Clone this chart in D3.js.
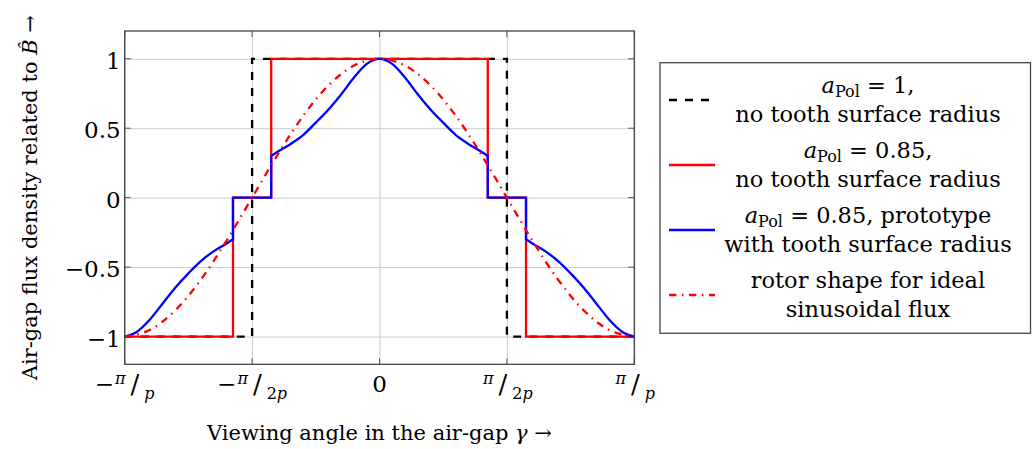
<!DOCTYPE html>
<meta charset="utf-8">
<head>
<script src="https://d3js.org/d3.v7.min.js"></script>
<style>
  body { margin: 0; background: #fff; }
  text { font-family: "DejaVu Serif", serif; fill: #000; }
</style>
</head>
<body>
<svg id="chart" width="1036" height="449"></svg>

<script>

// x in units of pi/p, y = B / B_hat
var xTicks = [-1, -0.5, 0, 0.5, 1];
var xTickLabels = ["−π/p", "−π/2p", "0", "π/2p", "π/p"];
var yTicks = [-1, -0.5, 0, 0.5, 1];
var yTickLabels = ["−1", "−0.5", "0", "0.5", "1"];

// a_Pol = 1, no tooth surface radius
var blackX = [-1, -0.5, -0.5, 0.5, 0.5, 1];
var blackY = [-1, -1, 1, 1, -1, -1];

// a_Pol = 0.85, no tooth surface radius
var redX = [-1, -0.575, -0.575, -0.425, -0.425, 0.425, 0.425, 0.575, 0.575, 1];
var redY = [-1, -1, 0, 0, 1, 1, 0, 0, -1, -1];

// a_Pol = 0.85, prototype with tooth surface radius
var blueX = [-1, -0.96, -0.9, -0.85, -0.8, -0.75, -0.7, -0.65, -0.6, -0.575,
             -0.575, -0.425,
             -0.425, -0.4, -0.35, -0.3, -0.25, -0.2, -0.15, -0.1, -0.05, 0,
             0.05, 0.1, 0.15, 0.2, 0.25, 0.3, 0.35, 0.4, 0.425,
             0.425, 0.575,
             0.575, 0.6, 0.65, 0.7, 0.75, 0.8, 0.85, 0.9, 0.96, 1];
var blueY = [-1, -0.975, -0.875, -0.76, -0.645, -0.545, -0.455, -0.385, -0.33, -0.30,
             0, 0,
             0.30, 0.33, 0.385, 0.45, 0.54, 0.635, 0.745, 0.865, 0.963, 1,
             0.963, 0.865, 0.745, 0.635, 0.54, 0.45, 0.385, 0.33, 0.30,
             0, 0,
             -0.30, -0.33, -0.385, -0.455, -0.545, -0.645, -0.76, -0.875, -0.975, -1];

// rotor shape for ideal sinusoidal flux
var sinX = [-1, -0.9, -0.8, -0.7, -0.6, -0.5, -0.4, -0.3, -0.2, -0.1, 0,
            0.1, 0.2, 0.3, 0.4, 0.5, 0.6, 0.7, 0.8, 0.9, 1];
var sinY = [-1, -0.951, -0.809, -0.588, -0.309, 0, 0.309, 0.588, 0.809, 0.951, 1,
            0.951, 0.809, 0.588, 0.309, 0, -0.309, -0.588, -0.809, -0.951, -1];

var legendLine1 = ["a_Pol = 1,", "a_Pol = 0.85,", "a_Pol = 0.85, prototype", "rotor shape for ideal"];
var legendLine2 = ["no tooth surface radius", "no tooth surface radius", "with tooth surface radius", "sinusoidal flux"];

var svg = d3.select("#chart");

var x = d3.scaleLinear().domain([-1, 1]).range([124.7, 634.3]);
var y = d3.scaleLinear().domain([-1.2, 1.2]).range([364.3, 31]);

var left = x.range()[0], right = x.range()[1];
var top_ = y.range()[1], bottom = y.range()[0];

// grid
svg.append("g")
  .attr("transform", "translate(0," + bottom + ")")
  .call(d3.axisBottom(x).tickValues(xTicks).tickSize(-(bottom - top_)).tickFormat(""))
  .call(g => g.select(".domain").remove())
  .selectAll("line").attr("stroke", "#c4c4c4").attr("stroke-width", 0.9);

svg.append("g")
  .attr("transform", "translate(" + left + ",0)")
  .call(d3.axisLeft(y).tickValues(yTicks).tickSize(-(right - left)).tickFormat(""))
  .call(g => g.select(".domain").remove())
  .selectAll("line").attr("stroke", "#c4c4c4").attr("stroke-width", 0.9);

// small inner tick marks on all four sides
var tk = 6;
xTicks.forEach(function(v) {
  svg.append("line").attr("x1", x(v)).attr("x2", x(v)).attr("y1", bottom).attr("y2", bottom - tk)
    .attr("stroke", "#555").attr("stroke-width", 1);
  svg.append("line").attr("x1", x(v)).attr("x2", x(v)).attr("y1", top_).attr("y2", top_ + tk)
    .attr("stroke", "#555").attr("stroke-width", 1);
});
yTicks.forEach(function(v) {
  svg.append("line").attr("x1", left).attr("x2", left + tk).attr("y1", y(v)).attr("y2", y(v))
    .attr("stroke", "#555").attr("stroke-width", 1);
  svg.append("line").attr("x1", right).attr("x2", right - tk).attr("y1", y(v)).attr("y2", y(v))
    .attr("stroke", "#555").attr("stroke-width", 1);
});

function toPoints(xs, ys) {
  return xs.map(function(v, i) { return [v, ys[i]]; });
}

// one path; smooth between jumps, straight at jumps
function jumpPath(pts, curve) {
  var runs = [], cur = [pts[0]];
  for (var i = 1; i < pts.length; i++) {
    if (pts[i][0] === pts[i - 1][0]) {
      if (cur.length > 1) runs.push({ p: cur, c: curve });
      runs.push({ p: [pts[i - 1], pts[i]], c: d3.curveLinear });
      cur = [pts[i]];
    } else {
      cur.push(pts[i]);
    }
  }
  if (cur.length > 1) runs.push({ p: cur, c: curve });
  var d = "";
  runs.forEach(function(r, k) {
    var s = d3.line().x(p => x(p[0])).y(p => y(p[1])).curve(r.c)(r.p);
    d += (k === 0) ? s : s.replace(/^M/, "L");
  });
  return d;
}

var lw = 2.3;

svg.append("path")
  .attr("d", jumpPath(toPoints(blackX, blackY), d3.curveLinear))
  .attr("fill", "none").attr("stroke", "#000").attr("stroke-width", lw)
  .attr("stroke-dasharray", "8,8");

svg.append("path")
  .attr("d", jumpPath(toPoints(redX, redY), d3.curveLinear))
  .attr("fill", "none").attr("stroke", "#ff0000").attr("stroke-width", lw);

svg.append("path")
  .attr("d", jumpPath(toPoints(blueX, blueY), d3.curveMonotoneX))
  .attr("fill", "none").attr("stroke", "#0000ff").attr("stroke-width", lw)
  .attr("stroke-linejoin", "round");

svg.append("path")
  .attr("d", jumpPath(toPoints(sinX, sinY), d3.curveMonotoneX))
  .attr("fill", "none").attr("stroke", "#ff0000").attr("stroke-width", lw)
  .attr("stroke-dasharray", "7.4,5.5,1.5,5.6");

// axis box
svg.append("rect")
  .attr("x", left).attr("y", top_).attr("width", right - left).attr("height", bottom - top_)
  .attr("fill", "none").attr("stroke", "#444").attr("stroke-width", 1.3);

// y tick labels
svg.selectAll(".ylab").data(yTicks).enter().append("text")
  .attr("class", "ylab")
  .attr("x", left - 4).attr("y", d => y(d) + 10)
  .attr("text-anchor", "end").style("font-size", "23px")
  .text((d, i) => yTickLabels[i]);

// x tick labels, fractions like -pi/2p
xTicks.forEach(function(v, i) {
  var lab = xTickLabels[i];
  var t = svg.append("text").attr("x", x(v)).attr("y", 392)
    .attr("text-anchor", "middle").style("font-size", "23px");
  if (lab.indexOf("/") < 0) { t.text(lab); return; }
  var parts = lab.split("/");
  var num = parts[0], den = parts[1];
  if (num.charAt(0) === "−") {
    t.append("tspan").text("−");
    num = num.slice(1);
  }
  t.append("tspan").attr("dy", -8).attr("dx", 1).style("font-size", "16px").style("font-style", "italic").text(num);
  t.append("tspan").attr("dy", 9).attr("dx", 5).style("font-size", "26px").text("/");
  var dn = t.append("tspan").attr("dy", 6).attr("dx", 5).style("font-size", "16px");
  var digits = den.replace("p", "");
  if (digits) dn.append("tspan").text(digits);
  dn.append("tspan").style("font-style", "italic").text("p");
});

// axis titles
var xt = svg.append("text").attr("x", (left + right) / 2).attr("y", 440)
  .attr("text-anchor", "middle").style("font-size", "21px");
xt.append("tspan").text("Viewing angle in the air-gap ");
xt.append("tspan").style("font-style", "italic").text("γ");
xt.append("tspan").text(" →");

var yt = svg.append("text")
  .attr("transform", "translate(37," + ((top_ + bottom) / 2) + ") rotate(-90)")
  .attr("text-anchor", "middle").style("font-size", "21px");
yt.append("tspan").text("Air-gap flux density related to ");
yt.append("tspan").style("font-style", "italic").text("B\u0302");
yt.append("tspan").text(" →");

// legend
var lg = svg.append("g");
lg.append("rect").attr("x", 660).attr("y", 62.7).attr("width", 370.5).attr("height", 270.6)
  .attr("fill", "#fff").attr("stroke", "#444").attr("stroke-width", 1.3);

var legendStyle = [
  { c: "#000", dash: "8,8" },
  { c: "#ff0000", dash: null },
  { c: "#0000ff", dash: null },
  { c: "#ff0000", dash: "7.4,5.5,1.5,5.6" }
];

legendLine1.forEach(function(l1, i) {
  var cy = 100 + i * 65;
  lg.append("line").attr("x1", 669).attr("x2", 715).attr("y1", cy).attr("y2", cy)
    .attr("stroke", legendStyle[i].c).attr("stroke-width", lw)
    .attr("stroke-dasharray", legendStyle[i].dash);

  var t1 = lg.append("text").attr("x", 868).attr("y", cy - 7)
    .attr("text-anchor", "middle").style("font-size", "22.5px");
  if (l1.indexOf("a_Pol") === 0) {
    t1.append("tspan").style("font-style", "italic").text("a");
    t1.append("tspan").attr("dy", 4).style("font-size", "16px").text("Pol");
    t1.append("tspan").attr("dy", -4).text(l1.slice(5));
  } else {
    t1.text(l1);
  }
  lg.append("text").attr("x", 868).attr("y", cy + 21.5)
    .attr("text-anchor", "middle").style("font-size", "22.5px")
    .text(legendLine2[i]);
});

</script>
</body>
